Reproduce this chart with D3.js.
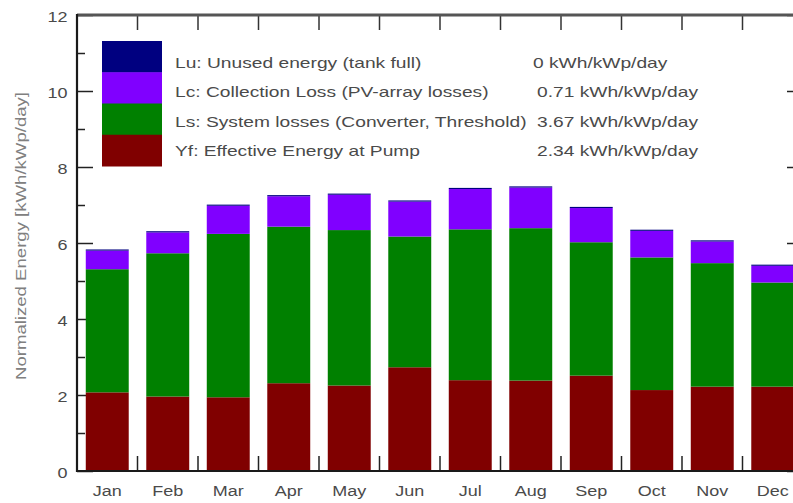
<!DOCTYPE html>
<html>
<head>
<meta charset="utf-8">
<script src="https://cdn.jsdelivr.net/npm/d3@7/dist/d3.min.js"></script>
<style>
  html, body { margin: 0; padding: 0; background: #fff; }
  svg { display: block; }
  text { font-family: "Liberation Sans", Arial, sans-serif; }
</style>
</head>
<body>
<svg id="chart" width="793" height="503"></svg>
<script>
// ---- data ----
const months = ["Jan","Feb","Mar","Apr","May","Jun","Jul","Aug","Sep","Oct","Nov","Dec"];
const yfValues = [2.07, 1.96, 1.94, 2.31, 2.25, 2.73, 2.39, 2.38, 2.51, 2.13, 2.22, 2.22];
const lsValues = [3.24, 3.77, 4.30, 4.12, 4.09, 3.44, 3.97, 4.01, 3.51, 3.49, 3.25, 2.74];
const lcValues = [0.49, 0.55, 0.74, 0.80, 0.93, 0.92, 1.06, 1.07, 0.90, 0.70, 0.57, 0.44];
const luValues = [0.03, 0.03, 0.03, 0.03, 0.03, 0.03, 0.03, 0.03, 0.03, 0.03, 0.03, 0.03];
const yMajorTicks = [0, 2, 4, 6, 8, 10, 12];
const yMinorTicks = [1, 3, 5, 7, 9, 11];
const seriesKeys = ["Yf", "Ls", "Lc", "Lu"];
const legendKeys = ["Lu", "Lc", "Ls", "Yf"];
const legendLabels = [
  "Lu: Unused energy (tank full)",
  "Lc: Collection Loss (PV-array losses)",
  "Ls: System losses (Converter, Threshold)",
  "Yf: Effective Energy at Pump"
];
const legendValues = [
  "0 kWh/kWp/day",
  "0.71 kWh/kWp/day",
  "3.67 kWh/kWp/day",
  "2.34 kWh/kWp/day"
];
const yTitle = "Normalized Energy [kWh/kWp/day]";
const colors = { Yf: "#800000", Ls: "#008000", Lc: "#8000ff", Lu: "#000080" };

// ---- layout ----
const svg = d3.select("#chart");
const pLeft = 77, pRight = 803, pTop = 15, pBottom = 471;
const stretch = 1.2, legendStretch = 1.28;

const x = d3.scaleBand().domain(months).range([pLeft, pRight])
  .paddingInner(0.29).paddingOuter(0.145);
const y = d3.scaleLinear().domain([0, 12]).range([pBottom, pTop]);

const rows = months.map((m, i) => ({
  month: m, Yf: yfValues[i], Ls: lsValues[i], Lc: lcValues[i], Lu: luValues[i]
}));
const stacked = d3.stack().keys(seriesKeys)(rows);

// ticks (drawn behind bars)
const gTicks = svg.append("g");
gTicks.append("g").attr("transform", `translate(${pLeft},0)`)
  .call(d3.axisLeft(y).tickValues(yMinorTicks).tickFormat("").tickSize(-8))
  .call(g => g.select(".domain").remove());
gTicks.append("g").attr("transform", `translate(${pRight},0)`)
  .call(d3.axisRight(y).tickValues(yMinorTicks).tickFormat("").tickSize(-8))
  .call(g => g.select(".domain").remove());
gTicks.append("g").attr("transform", `translate(${pRight},0)`)
  .call(d3.axisRight(y).tickValues(yMajorTicks).tickFormat("").tickSize(-16))
  .call(g => g.select(".domain").remove());
const yAxisG = gTicks.append("g").attr("transform", `translate(${pLeft},0)`)
  .call(d3.axisLeft(y).tickValues(yMajorTicks).tickSize(-16).tickPadding(8));
yAxisG.select(".domain").remove();
gTicks.selectAll(".tick line").attr("stroke", "#222").attr("stroke-width", 1.5);
yAxisG.selectAll(".tick text")
  .attr("font-size", 15).attr("fill", "#4a4a4a")
  .attr("font-family", "Liberation Sans, Arial, sans-serif")
  .attr("dy", "0.42em")
  .attr("transform", `scale(${stretch},1)`);

// category boundary ticks on bottom and top
const boundaries = d3.range(1, months.length).map(i => x.range()[0] + i * x.step());
gTicks.selectAll("line.bt").data(boundaries).join("line").attr("class", "bt")
  .attr("x1", d => d).attr("x2", d => d)
  .attr("y1", pBottom).attr("y2", pBottom - 15)
  .attr("stroke", "#222").attr("stroke-width", 1.5);
gTicks.selectAll("line.tt").data(boundaries).join("line").attr("class", "tt")
  .attr("x1", d => d).attr("x2", d => d)
  .attr("y1", pTop).attr("y2", pTop + 15)
  .attr("stroke", "#333").attr("stroke-width", 1.5);

// bars
svg.append("g").selectAll("g").data(stacked).join("g")
  .attr("fill", d => colors[d.key])
  .selectAll("rect").data(d => d).join("rect")
  .attr("x", d => x(d.data.month))
  .attr("width", x.bandwidth())
  .attr("y", d => y(d[1]))
  .attr("height", d => y(d[0]) - y(d[1]));

// frame
svg.append("line").attr("x1", pLeft).attr("x2", pRight).attr("y1", pTop).attr("y2", pTop)
  .attr("stroke", "#555").attr("stroke-width", 3);
svg.append("line").attr("x1", pLeft).attr("x2", pLeft).attr("y1", pTop - 1).attr("y2", pBottom + 1)
  .attr("stroke", "#1a1a1a").attr("stroke-width", 2.2);
svg.append("line").attr("x1", pRight).attr("x2", pRight).attr("y1", pTop).attr("y2", pBottom)
  .attr("stroke", "#222").attr("stroke-width", 2);
svg.append("line").attr("x1", pLeft).attr("x2", pRight).attr("y1", pBottom).attr("y2", pBottom)
  .attr("stroke", "#1a1a1a").attr("stroke-width", 2.2);

// month labels
svg.append("g").selectAll("text").data(months).join("text")
  .attr("transform", d => `translate(${x(d) + x.bandwidth() / 2},496) scale(${stretch},1)`)
  .attr("text-anchor", "middle")
  .attr("font-size", 15).attr("fill", "#4a4a4a")
  .text(d => d);

// y title
svg.append("text")
  .attr("transform", "translate(26,236) rotate(-90)")
  .attr("text-anchor", "middle")
  .attr("font-size", 14).attr("fill", "#808080")
  .attr("textLength", 288).attr("lengthAdjust", "spacingAndGlyphs")
  .text(yTitle);

// legend
const lg = svg.append("g");
const swTop = 41, swH = 31.25;
lg.selectAll("rect").data(legendKeys).join("rect")
  .attr("x", 102).attr("width", 60)
  .attr("y", (d, i) => swTop + i * swH).attr("height", swH + 0.5)
  .attr("fill", d => colors[d]);
lg.selectAll("text.lab").data(legendLabels).join("text").attr("class", "lab")
  .attr("transform", (d, i) => `translate(175,${67.5 + i * 29.5}) scale(${legendStretch},1)`)
  .attr("font-size", 15).attr("fill", "#4a4a4a")
  .text(d => d);
lg.selectAll("text.val").data(legendValues).join("text").attr("class", "val")
  .attr("transform", (d, i) => `translate(${i === 0 ? 533 : 537},${67.5 + i * 29.5}) scale(${legendStretch},1)`)
  .attr("font-size", 15).attr("fill", "#4a4a4a")
  .text(d => d);
</script>
</body>
</html>
